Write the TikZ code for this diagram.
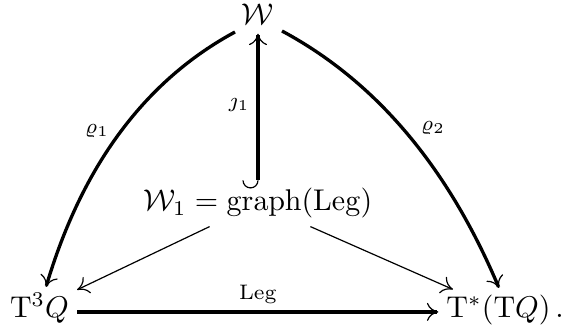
\documentclass[tikz,border=0pt]{standalone}
\usetikzlibrary{arrows.meta}
\begin{document}
\begin{tikzpicture}[x=0.33333pt,y=-0.33333pt,
  obj/.style={inner xsep=2.5pt,inner ysep=2.5pt},
  topobj/.style={inner sep=0pt},
  lowobj/.style={inner xsep=2.5pt,inner ysep=1.5pt},
  lbl/.style={inner sep=0pt},
  thickarr/.style={line width=1.1pt,-{To[line width=0.4pt,length=3.8pt,width=6pt]}},
  thinarr/.style={line width=0.4pt,-{To[length=3.8pt,width=6pt]}},
  hookline/.style={line width=0.4pt}]
\useasboundingbox (0,0) rectangle (563,328);
% nodes
\node[topobj,anchor=base] (w) at (258,25) {$\mathcal{W}$};
\node[obj,anchor=base] (w1) at (258,211) {$\mathcal{W}_1 = \mathrm{graph}(\mathrm{Leg})$};
\node[lowobj,anchor=base] (t3q) at (39.5,317) {$\mathrm{T}^3Q$};
\node[lowobj,anchor=base] (tstar) at (498.5,317) {$\mathrm{T}^*(\mathrm{T}Q)$};
\node[lbl,anchor=base] (dot) at (559.5,317) {$.$};
% labels
\node[lbl] (r1) at (97,131) {$\scriptstyle\varrho_1$};
\node[lbl] (r2) at (433,128) {$\scriptstyle\varrho_2$};
\node[lbl] (j1) at (239,105.5) {$\scriptstyle\jmath_1$};
\node[lbl] (leg) at (258,294) {$\scriptstyle\mathrm{Leg}$};
% curved arrows
\draw[thickarr] ([shift={(-23,7)}]w.base) .. controls +(-90,48.67) and +(36,-121.33) .. ([shift={(6.5,-30)}]t3q.base);
\draw[thickarr] ([shift={(24,6)}]w.base) .. controls +(92,49.33) and +(-52,-123.33) .. ([shift={(0.5,-29)}]tstar.base);
% vertical hooked arrow
\draw[thickarr,shorten >=2.7pt] (w1.north) -- (w.south);
\draw[hookline] (w1.north) arc[start angle=0,end angle=-180,radius=2.5pt];
% thin arrows
\draw[thinarr] (w1) -- (t3q);
\draw[thinarr] (w1) -- (tstar);
% bottom arrow
\draw[thickarr] ([yshift=1.7pt]t3q.base east) -- ([yshift=1.7pt]tstar.base west);
\end{tikzpicture}
\end{document}
